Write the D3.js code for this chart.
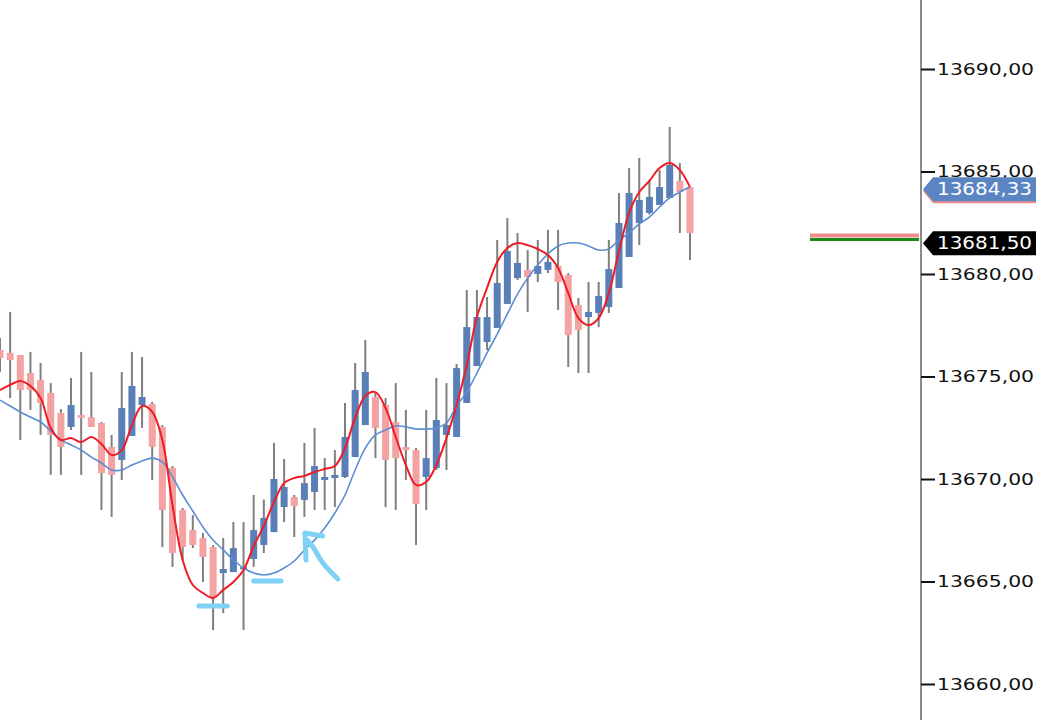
<!DOCTYPE html>
<html>
<head>
<meta charset="utf-8">
<script src="https://cdn.jsdelivr.net/npm/d3@7"></script>
<style>
  html, body { margin: 0; padding: 0; background: #ffffff; }
  svg { display: block; }
</style>
</head>
<body>
<div id="chart"></div>
<script>
// ---------------- DATA ----------------
const open = [13676.30, 13676.15, 13676.05, 13675.17, 13674.83, 13674.20, 13673.22, 13672.54, 13673.12, 13673.02,
  13672.73, 13671.56, 13670.93, 13672.10, 13673.61, 13673.66, 13672.54, 13670.54, 13668.49, 13667.51,
  13667.12, 13666.68, 13665.41, 13665.46, 13665.60, 13666.10, 13666.78, 13667.41, 13668.63, 13669.12,
  13668.98, 13669.37, 13669.95, 13670.05, 13670.10, 13671.07, 13672.63, 13674.00, 13673.61, 13672.78,
  13671.56, 13671.41, 13670.10, 13670.54, 13672.15, 13672.05, 13673.71, 13675.51, 13676.68, 13677.37,
  13678.54, 13679.80, 13680.20, 13680.00, 13680.20, 13680.39, 13679.95, 13678.49, 13677.90, 13678.10,
  13678.39, 13679.32, 13680.83, 13682.49, 13682.98, 13683.37, 13683.71, 13684.54, 13684.24];

const high = [13676.88, 13678.15, 13676.05, 13676.20, 13675.66, 13674.68, 13673.41, 13674.93, 13676.20, 13675.22,
  13672.78, 13672.15, 13675.22, 13676.20, 13675.95, 13673.76, 13672.63, 13670.63, 13668.59, 13668.24,
  13667.37, 13666.78, 13667.12, 13667.90, 13667.90, 13669.22, 13669.00, 13671.76, 13670.98, 13669.22,
  13671.76, 13672.49, 13671.02, 13671.41, 13673.71, 13675.66, 13676.78, 13674.20, 13673.95, 13674.68,
  13673.37, 13671.51, 13673.37, 13674.93, 13674.68, 13675.61, 13679.22, 13679.22, 13678.88, 13681.66,
  13682.73, 13682.00, 13681.17, 13681.66, 13682.15, 13682.15, 13680.05, 13678.83, 13679.61, 13679.61,
  13681.66, 13683.95, 13685.17, 13685.66, 13684.59, 13685.07, 13687.17, 13685.41, 13684.24];

const low = [13675.22, 13673.95, 13671.90, 13673.37, 13672.15, 13670.20, 13670.20, 13672.39, 13670.20, 13672.54,
  13668.49, 13668.15, 13669.95, 13672.10, 13672.49, 13669.95, 13666.68, 13665.71, 13666.05, 13666.63,
  13664.98, 13662.63, 13663.46, 13665.46, 13662.63, 13665.71, 13666.39, 13667.41, 13667.90, 13667.17,
  13668.15, 13668.49, 13668.49, 13668.63, 13670.05, 13671.07, 13672.63, 13671.02, 13668.63, 13668.49,
  13669.95, 13666.78, 13668.49, 13670.44, 13670.44, 13672.05, 13673.71, 13675.51, 13676.29, 13677.37,
  13678.54, 13679.71, 13678.15, 13679.61, 13680.05, 13678.24, 13675.46, 13675.17, 13675.17, 13677.41,
  13678.10, 13679.32, 13680.83, 13681.41, 13682.90, 13683.37, 13683.71, 13682.00, 13680.68];

const close = [13675.90, 13675.80, 13674.34, 13674.34, 13673.71, 13672.15, 13671.56, 13673.61, 13672.98, 13672.54,
  13670.29, 13670.20, 13673.46, 13674.54, 13674.00, 13671.56, 13668.49, 13666.39, 13666.68, 13666.78,
  13666.20, 13664.20, 13665.61, 13666.63, 13665.70, 13667.51, 13668.10, 13670.00, 13669.61, 13668.68,
  13669.80, 13670.63, 13670.10, 13670.20, 13672.05, 13674.34, 13675.22, 13672.49, 13670.93, 13671.02,
  13671.41, 13668.78, 13671.02, 13672.88, 13672.63, 13675.41, 13677.41, 13677.90, 13677.90, 13679.56,
  13681.12, 13680.54, 13679.85, 13680.39, 13680.59, 13679.61, 13677.02, 13677.27, 13678.15, 13678.93,
  13680.24, 13682.49, 13683.95, 13683.61, 13683.76, 13684.24, 13685.32, 13684.00, 13682.00];

const maFast = [13674.34, 13674.59, 13674.78, 13674.54, 13673.95, 13672.49, 13671.90, 13672.00, 13671.80, 13672.05,
  13671.71, 13671.17, 13671.41, 13672.63, 13673.56, 13673.27, 13671.90, 13668.73, 13666.05, 13664.83,
  13664.44, 13664.20, 13664.59, 13664.98, 13665.56, 13666.73, 13667.71, 13668.88, 13669.80, 13670.05,
  13670.15, 13670.34, 13670.49, 13670.63, 13671.51, 13672.98, 13674.05, 13674.24, 13673.46, 13672.05,
  13670.68, 13669.71, 13669.85, 13670.68, 13672.00, 13673.61, 13675.56, 13677.90, 13679.32, 13680.59,
  13681.27, 13681.51, 13681.41, 13681.22, 13680.93, 13680.29, 13679.07, 13677.85, 13677.51, 13677.85,
  13679.07, 13681.12, 13682.98, 13684.00, 13684.54, 13685.17, 13685.41, 13685.07, 13684.24];

const maSlow = [13673.85, 13673.56, 13673.27, 13673.02, 13672.78, 13672.34, 13671.90, 13671.66, 13671.41, 13671.07,
  13670.78, 13670.44, 13670.44, 13670.68, 13670.88, 13671.02, 13670.83, 13670.10, 13669.22, 13668.44,
  13667.66, 13667.02, 13666.54, 13666.05, 13665.66, 13665.41, 13665.32, 13665.41, 13665.66, 13666.00,
  13666.54, 13667.02, 13667.61, 13668.34, 13669.22, 13670.44, 13671.51, 13672.15, 13672.39, 13672.59,
  13672.54, 13672.44, 13672.44, 13672.49, 13672.73, 13673.56, 13674.24, 13675.17, 13676.15, 13677.07,
  13678.05, 13679.02, 13679.80, 13680.44, 13680.98, 13681.37, 13681.51, 13681.51, 13681.37, 13681.17,
  13681.22, 13681.66, 13682.00, 13682.44, 13682.78, 13683.27, 13683.71, 13684.00, 13684.24];

const candleIndex = open.map((_, i) => i);

const tickValues = [13660, 13665, 13670, 13675, 13680, 13685, 13690];
const tickLabels = ["13660,00", "13665,00", "13670,00", "13675,00", "13680,00", "13685,00", "13690,00"];

// price markers on the axis
const maLabelValue = 13684.33, maLabelText = "13684,33";
const lastLabelValue = 13681.50, lastLabelText = "13681,50";
const askLevel = 13681.88, bidLevel = 13681.68;

// hand-drawn annotations, in (candle index, price) terms
const annotUnder1 = [[19.6, 13663.80], [22.4, 13663.80]];
const annotUnder2 = [[25.0, 13665.02], [27.7, 13665.02]];
const annotArrowHead = [[30.15, 13666.05], [30.05, 13667.37], [31.8, 13667.22]];
const annotArrowTail = [[30.25, 13667.02], [30.84, 13666.68], [31.82, 13665.90], [33.3, 13665.12]];

// ---------------- CHART ----------------
const W = 1064, H = 720;
const svg = d3.select("#chart").append("svg").attr("width", W).attr("height", H);

const axisX = 921;
const x = d3.scaleLinear().domain([0, 68]).range([0, 690]);
const y = d3.scaleLinear().domain([13660, 13690]).range([684, 69]);

const bodyW = 7;
const pink = "#F4A2A2", blue = "#5A7FB6", wickC = "#7f7f7f";

const candles = candleIndex.map(i => ({ i, o: open[i], h: high[i], l: low[i], c: close[i] }));

const g = svg.append("g");

// wicks
g.selectAll("line.wick").data(candles).join("line")
  .attr("class", "wick")
  .attr("x1", d => x(d.i)).attr("x2", d => x(d.i))
  .attr("y1", d => y(d.h)).attr("y2", d => y(d.l))
  .attr("stroke", wickC).attr("stroke-width", 2);

// bodies
g.selectAll("rect.body").data(candles).join("rect")
  .attr("class", "body")
  .attr("x", d => x(d.i) - bodyW / 2)
  .attr("width", bodyW)
  .attr("y", d => y(Math.max(d.o, d.c)))
  .attr("height", d => Math.max(2, Math.abs(y(d.o) - y(d.c))))
  .attr("fill", d => d.c >= d.o ? blue : pink);

// moving averages
const lineSlow = d3.line().x((d, i) => x(i)).y(d => y(d)).curve(d3.curveCatmullRom);
g.append("path").datum(maSlow).attr("d", lineSlow)
  .attr("fill", "none").attr("stroke", "#5B8DD3").attr("stroke-width", 1.6);
g.append("path").datum(maFast).attr("d", lineSlow)
  .attr("fill", "none").attr("stroke", "#EE1C24").attr("stroke-width", 2);

// annotations
const annC = "#7FD2F6";
const annLine = d3.line().x(d => x(d[0])).y(d => y(d[1]));
const annCurve = d3.line().x(d => x(d[0])).y(d => y(d[1])).curve(d3.curveCatmullRom);
[annotUnder1, annotUnder2].forEach(pts => {
  svg.append("path").datum(pts).attr("d", annLine)
    .attr("stroke", annC).attr("stroke-width", 5).attr("stroke-linecap", "round").attr("fill", "none");
});
svg.append("path").datum(annotArrowHead).attr("d", annLine)
  .attr("stroke", annC).attr("stroke-width", 5).attr("stroke-linecap", "round")
  .attr("stroke-linejoin", "round").attr("fill", "none");
svg.append("path").datum(annotArrowTail).attr("d", annCurve)
  .attr("stroke", annC).attr("stroke-width", 5).attr("stroke-linecap", "round").attr("fill", "none");

// bid/ask level lines
svg.append("line").attr("x1", 810).attr("x2", 919)
  .attr("y1", y(askLevel)).attr("y2", y(askLevel))
  .attr("stroke", "#F08E8E").attr("stroke-width", 4);
svg.append("line").attr("x1", 810).attr("x2", 919)
  .attr("y1", y(bidLevel)).attr("y2", y(bidLevel))
  .attr("stroke", "#168A16").attr("stroke-width", 3);

// axis
svg.append("line").attr("x1", axisX).attr("x2", axisX).attr("y1", 0).attr("y2", H)
  .attr("stroke", "#8a8a8a").attr("stroke-width", 2);

const axis = d3.axisRight(y).tickValues(tickValues).tickSize(14).tickPadding(2)
  .tickFormat((d, i) => tickLabels[i]);
const ag = svg.append("g").attr("transform", `translate(${axisX},0)`).call(axis);
ag.select(".domain").remove();
ag.selectAll(".tick line").attr("stroke", "#111").attr("stroke-width", 2);
ag.selectAll(".tick text")
  .attr("fill", "#111")
  .style("font-family", "'DejaVu Sans', sans-serif")
  .style("font-size", "16px")
  .attr("textLength", 97)
  .attr("lengthAdjust", "spacingAndGlyphs");

// price marker labels
function marker(val, txt, fill, under) {
  const cy = val === maLabelValue ? y(val) + 4 : y(val);
  const pts = [[axisX + 2, cy], [axisX + 12, cy - 12], [1036, cy - 12], [1036, cy + 12], [axisX + 12, cy + 12]];
  const gm = svg.append("g");
  if (under) {
    gm.append("polygon").attr("points", pts.map(p => [p[0], p[1] + 2].join(",")).join(" ")).attr("fill", under);
  }
  gm.append("polygon").attr("points", pts.map(p => p.join(",")).join(" ")).attr("fill", fill);
  gm.append("text").attr("x", 937).attr("y", cy).attr("dy", "0.36em")
    .attr("fill", "#fff")
    .style("font-family", "'DejaVu Sans', sans-serif").style("font-size", "17px")
    .attr("textLength", 95).attr("lengthAdjust", "spacingAndGlyphs")
    .text(txt);
}
marker(maLabelValue, maLabelText, "#5A84C2", "#EE8C8C");
marker(lastLabelValue, lastLabelText, "#000000", null);
</script>
</body>
</html>
